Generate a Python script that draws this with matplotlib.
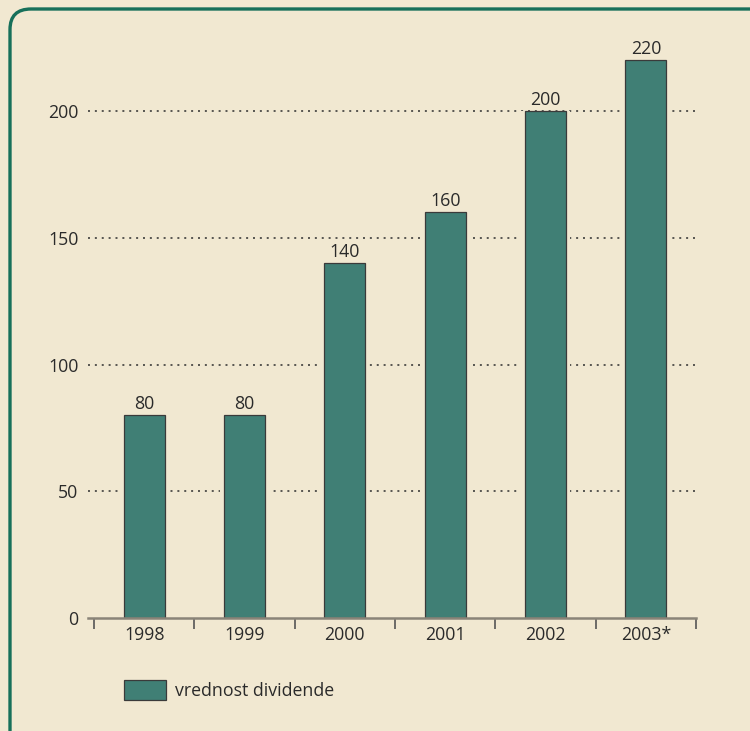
import matplotlib

matplotlib.use("Agg")
import matplotlib.pyplot as plt
from matplotlib.patches import FancyBboxPatch

# data
years = ["1998", "1999", "2000", "2001", "2002", "2003*"]
dividend = [80, 80, 140, 160, 200, 220]
yticks = [0, 50, 100, 150, 200]

BG = "#F1E8D1"
BAR = "#407F75"
FRAME = "#17705A"
TXT = "#2A2A2A"
FS = 12.8

plt.rcParams["font.family"] = ["Open Sans", "DejaVu Sans"]

W, H = 750, 731
fig = plt.figure(figsize=(W / 100, H / 100), dpi=100)
fig.patch.set_facecolor(BG)

# rounded frame, cut by the right and bottom edge of the picture
frame = FancyBboxPatch((10 / W, 1 - 760 / H), 780 / W, 751 / H,
                       boxstyle="round,pad=0,rounding_size=0.028",
                       transform=fig.transFigure, fill=False,
                       edgecolor=FRAME, lw=2.4, zorder=0)
fig.patches.append(frame)

ax = fig.add_axes([88 / W, 1 - 618 / H, (696 - 88) / W, (618 - 30) / H])
ax.set_facecolor("none")
x = range(len(years))
# background-coloured halo so the dotted grid stops short of the bars
ax.bar(x, dividend, width=0.49, color=BG, lw=0, zorder=2)
bars = ax.bar(x, dividend, width=0.41, color=BAR, edgecolor="#3A3A3A",
              lw=0.9, zorder=3)
for xi, v in zip(x, dividend):
    ax.text(xi, v + 1.0, f"{v}", ha="center", va="bottom", fontsize=FS,
            color=TXT)

ax.set_xlim(-0.56, 5.5)
ax.set_ylim(0, 232)
for t in yticks[1:]:
    ax.axhline(t, color="#2E2E2E", lw=1.1, ls=(0, (1.3, 3.2)), zorder=1)

for s in ("top", "right", "left"):
    ax.spines[s].set_visible(False)
ax.spines["bottom"].set_color("#8A8478")
ax.spines["bottom"].set_linewidth(1.8)
ax.spines["bottom"].set_zorder(4)

ax.set_yticks(yticks)
ax.set_yticklabels([str(t) for t in yticks], fontsize=FS, color=TXT)
ax.tick_params(axis="y", length=0, pad=7)

ax.set_xticks([i - 0.5 for i in range(len(years) + 1)])
ax.set_xticklabels([])
ax.set_xticks(list(x), minor=True)
ax.set_xticklabels(years, minor=True, fontsize=FS, color=TXT)
ax.tick_params(axis="x", which="major", length=8, width=1.2, color="#555555",
               direction="out")
ax.tick_params(axis="x", which="minor", length=0, pad=6)

leg = ax.legend([bars], ["vrednost dividende"], loc="upper left",
                bbox_to_anchor=(36 / 608, -0.106), frameon=False,
                fontsize=FS, handlelength=2.35, handleheight=1.3,
                handletextpad=0.5, borderaxespad=0, borderpad=0)
for t in leg.get_texts():
    t.set_color(TXT)

fig.savefig("out.png", dpi=100, facecolor=BG)
